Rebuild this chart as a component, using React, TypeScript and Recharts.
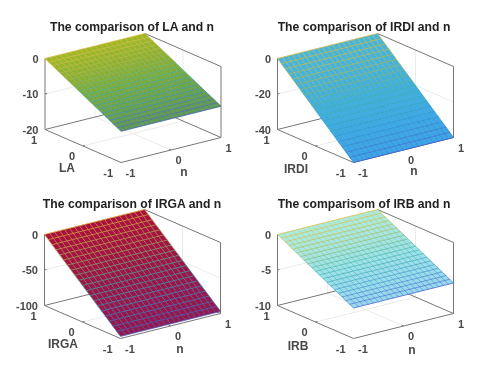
import { Scatter, ScatterChart, XAxis, YAxis } from "recharts";

const nValues = [-1, -0.9, -0.8, -0.7, -0.6, -0.5, -0.4, -0.3, -0.2, -0.1, 0, 0.1, 0.2, 0.3, 0.4, 0.5, 0.6, 0.7, 0.8, 0.9, 1];
const rowValues = [1, 0.9, 0.8, 0.7, 0.6, 0.5, 0.4, 0.3, 0.2, 0.1, 0, -0.1, -0.2, -0.3, -0.4, -0.5, -0.6, -0.7, -0.8, -0.9, -1];

const laValues = [0, -0.56, -1.12, -1.68, -2.24, -2.8, -3.36, -3.92, -4.48, -5.04, -5.6, -6.16, -6.72, -7.28, -7.84, -8.4, -8.96, -9.52, -10.08, -10.64, -11.2];
const irdiValues = [0, -2, -4, -6, -8, -10, -12, -14, -16, -18, -20, -22, -24, -26, -28, -30, -32, -34, -36, -38, -40];
const irgaValues = [0, -4.85, -9.7, -14.55, -19.4, -24.25, -29.1, -33.95, -38.8, -43.65, -48.5, -53.35, -58.2, -63.05, -67.9, -72.75, -77.6, -82.45, -87.3, -92.15, -97];
const irbValues = [0, -0.285, -0.57, -0.855, -1.14, -1.425, -1.71, -1.995, -2.28, -2.565, -2.85, -3.135, -3.42, -3.705, -3.99, -4.275, -4.56, -4.845, -5.13, -5.415, -5.7];

const axisTicks = [-1, 0, 1];
const edgeStops = ["#3b50c8", "#2a90c8", "#30b0a0", "#a8b048", "#e8b830"];

type Panel = {
  title: string;
  yLabel: string;
  values: number[];
  zTicks: number[];
  left: number;
  top: number;
  height: number;
  cx: number;
  cy: number;
  titlePos: number[];
  yLabelPos: number[];
  nLabelPos: number[];
  faceTop: string;
  faceBottom: string;
};

const panels: Panel[] = [
  { title: "The comparison of LA and n", yLabel: "LA", values: laValues, zTicks: [0, -10, -20], left: 0, top: 0, height: 186, cx: 133, cy: 133.5, titlePos: [132, 27], yLabelPos: [67, 168], nLabelPos: [184, 172], faceTop: "#9cb82a", faceBottom: "#5f9a50" },
  { title: "The comparison of IRDI and n", yLabel: "IRDI", values: irdiValues, zTicks: [0, -20, -40], left: 240, top: 0, height: 186, cx: 125.5, cy: 133.5, titlePos: [124, 27], yLabelPos: [56, 169], nLabelPos: [174, 171], faceTop: "#48b6d6", faceBottom: "#3ba5e8" },
  { title: "The comparison of IRGA and n", yLabel: "IRGA", values: irgaValues, zTicks: [0, -50, -100], left: 0, top: 186, height: 187, cx: 132.5, cy: 123.5, titlePos: [132, 18], yLabelPos: [63, 158], nLabelPos: [180, 163], faceTop: "#a8123e", faceBottom: "#8f1a50" },
  { title: "The comparisom of IRB and n", yLabel: "IRB", values: irbValues, zTicks: [0, -5, -10], left: 240, top: 186, height: 187, cx: 125.5, cy: 123.5, titlePos: [124, 18], yLabelPos: [58, 160], nLabelPos: [172, 164], faceTop: "#a8ece0", faceBottom: "#96d8ee" },
];

const hex = (c: string) => [1, 3, 5].map((i) => parseInt(c.slice(i, i + 2), 16));
const mix = (a: string, b: string, t: number) => {
  const ca = hex(a);
  const cb = hex(b);
  return `rgb(${ca.map((v, i) => Math.round(v + (cb[i] - v) * t)).join(",")})`;
};
const edgeColor = (t: number) => {
  const p = Math.min(Math.max(t, 0), 1) * (edgeStops.length - 1);
  const i = Math.min(Math.floor(p), edgeStops.length - 2);
  return mix(edgeStops[i], edgeStops[i + 1], p - i);
};

const noDot = () => <g />;

function PanelChart({ panel }: { panel: Panel }) {
  const zBottom = panel.zTicks[2];
  const project = (n: number, r: number, z: number) => ({
    x: panel.cx + n * 50 - r * 38,
    y: panel.cy - n * 12.5 - r * 16.5 - ((z - zBottom) / -zBottom) * 71,
  });
  const seg = (a: number[], b: number[]) => [project(a[0], a[1], a[2]), project(b[0], b[1], b[2])];

  // light grid on the floor and the two back walls
  const grid = [
    seg([-1, 0, zBottom], [1, 0, zBottom]),
    seg([0, 1, zBottom], [0, -1, zBottom]),
    seg([0, 1, zBottom], [0, 1, 0]),
    seg([1, 0, zBottom], [1, 0, 0]),
    seg([-1, 1, panel.zTicks[1]], [1, 1, panel.zTicks[1]]),
    seg([1, 1, panel.zTicks[1]], [1, -1, panel.zTicks[1]]),
  ];
  const box = [
    seg([-1, 1, zBottom], [1, 1, zBottom]),
    seg([1, 1, zBottom], [1, -1, zBottom]),
    seg([1, 1, 0], [1, -1, 0]),
    seg([1, -1, zBottom], [1, -1, 0]),
    seg([-1, 1, zBottom], [-1, 1, 0]),
    seg([-1, 1, zBottom], [-1, -1, zBottom]),
    seg([-1, -1, zBottom], [1, -1, zBottom]),
    // short tick marks
    seg([-1, 0, zBottom], [-0.96, 0, zBottom]),
    seg([0, -1, zBottom], [0, -0.95, zBottom]),
    seg([-1, 1, panel.zTicks[1]], [-0.96, 1, panel.zTicks[1]]),
  ];
  const nodes = panel.values.flatMap((z, r) => nValues.map((n) => project(n, rowValues[r], z)));
  const rowCount = panel.values.length;
  const colCount = nValues.length;

  const drawSurface = (props: any) => {
    const pts = props.points;
    const at = (r: number, c: number) => pts[r * colCount + c];
    const shade = (r: number) => r / (rowCount - 1);
    const items: any[] = [];
    for (let r = 0; r < rowCount - 1; r++) {
      const fill = mix(panel.faceTop, panel.faceBottom, shade(r));
      for (let c = 0; c < colCount - 1; c++) {
        const q = [at(r, c), at(r, c + 1), at(r + 1, c + 1), at(r + 1, c)];
        items.push(<polygon key={`f${r}-${c}`} points={q.map((p) => `${p.x},${p.y}`).join(" ")} fill={fill} stroke={fill} strokeWidth={0.3} />);
      }
    }
    for (let c = 0; c < colCount; c++) {
      for (let r = 0; r < rowCount - 1; r++) {
        const a = at(r, c);
        const b = at(r + 1, c);
        items.push(<line key={`v${c}-${r}`} x1={a.x} y1={a.y} x2={b.x} y2={b.y} stroke={edgeColor(1 - shade(r))} strokeWidth={0.55} strokeOpacity={c === 0 || c === colCount - 1 ? 1 : 0.85} />);
      }
    }
    for (let r = 0; r < rowCount; r++) {
      const a = at(r, 0);
      const b = at(r, colCount - 1);
      items.push(<line key={`h${r}`} x1={a.x} y1={a.y} x2={b.x} y2={b.y} stroke={edgeColor(1 - shade(r))} strokeWidth={0.65} strokeOpacity={r === 0 || r === rowCount - 1 ? 1 : 0.9} />);
    }
    return <g>{items}</g>;
  };

  const textDot = (props: any) => {
    const { cx, cy, payload } = props;
    return (
      <text
        x={cx}
        y={cy}
        textAnchor={payload.anchor}
        dominantBaseline="central"
        fontFamily="Liberation Sans"
        fontWeight="bold"
        fontSize={payload.size}
        fill={payload.color}
      >
        {payload.text}
      </text>
    );
  };

  const tickColor = "#484848";
  const labels = [
    { x: panel.titlePos[0], y: panel.titlePos[1], text: panel.title, anchor: "middle", size: 12.2, color: "#222222" },
    { x: panel.yLabelPos[0], y: panel.yLabelPos[1], text: panel.yLabel, anchor: "middle", size: 12, color: tickColor },
    { x: panel.nLabelPos[0], y: panel.nLabelPos[1], text: "n", anchor: "middle", size: 12, color: tickColor },
    ...panel.zTicks.map((z) => {
      const p = project(-1, 1, z);
      return { x: p.x - 6.5, y: p.y, text: String(z), anchor: "end", size: 11, color: tickColor };
    }),
    ...axisTicks.map((t) => {
      const p = project(-1, t, zBottom);
      return { x: p.x - 8, y: p.y + 10, text: String(t), anchor: "end", size: 11, color: tickColor };
    }),
    ...axisTicks.map((t) => {
      const p = project(t, -1, zBottom);
      return { x: p.x + 4.5, y: p.y + 10, text: String(t), anchor: "start", size: 11, color: tickColor };
    }),
  ];

  return (
    <div style={{ position: "absolute", left: panel.left, top: panel.top }}>
      <ScatterChart width={240} height={panel.height} margin={{ top: 0, right: 0, bottom: 0, left: 0 }}>
        <XAxis type="number" dataKey="x" domain={[0, 240]} hide allowDataOverflow />
        <YAxis type="number" dataKey="y" domain={[0, panel.height]} reversed hide allowDataOverflow />
        {grid.map((d, i) => (
          <Scatter key={`g${i}`} data={d} line={{ stroke: "#e6e6e6", strokeWidth: 0.8 }} shape={noDot} isAnimationActive={false} />
        ))}
        {box.map((d, i) => (
          <Scatter key={`b${i}`} data={d} line={{ stroke: "#777777", strokeWidth: 1 }} shape={noDot} isAnimationActive={false} />
        ))}
        <Scatter data={nodes} line={drawSurface} shape={noDot} isAnimationActive={false} />
        <Scatter data={labels} shape={textDot} isAnimationActive={false} />
      </ScatterChart>
    </div>
  );
}

export default function App() {
  return (
    <div style={{ position: "absolute", left: 0, top: 0, width: 480, height: 373, background: "#fff", overflow: "hidden", filter: "blur(0.45px)" }}>
      {panels.map((p) => (
        <PanelChart key={p.title} panel={p} />
      ))}
    </div>
  );
}
